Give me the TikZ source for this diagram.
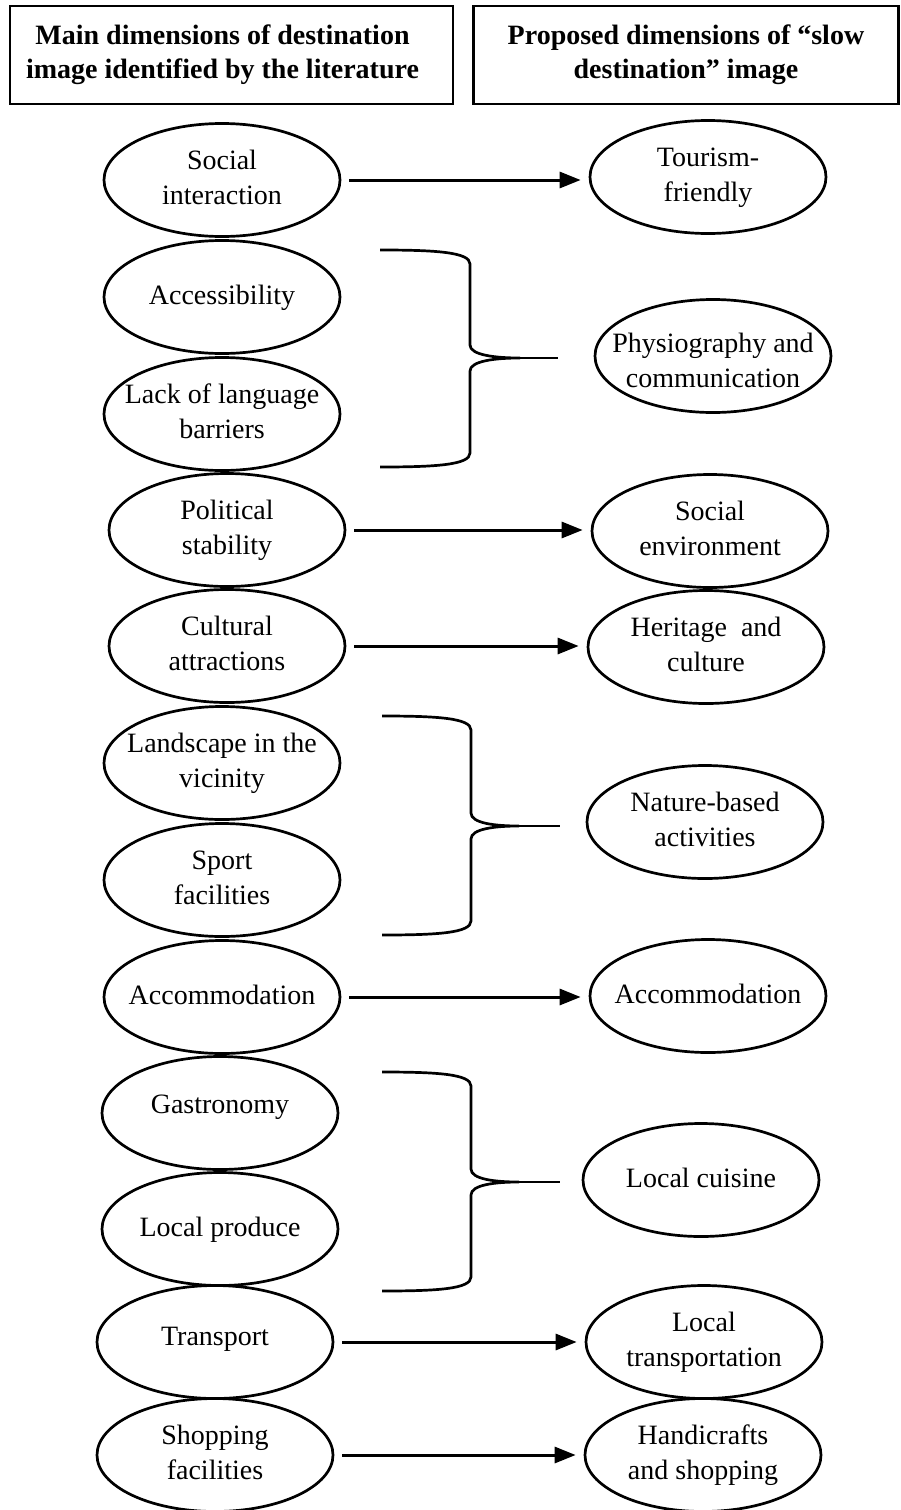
\documentclass[tikz,border=0pt]{standalone}
\usepackage{fontspec}
\setmainfont{Liberation Serif}
\usetikzlibrary{shapes.geometric,arrows.meta}
\newcommand\ovtext[1]{\makebox[0pt]{\begin{tabular}{@{}c@{}}#1\end{tabular}}}
\newcommand\ovtextlow[2]{\makebox[0pt]{\raisebox{#1}[0pt][0pt]{\begin{tabular}{@{}c@{}}#2\end{tabular}}}}
\newcommand\drawbrace[7]{%
  \draw[bracestyle] (#1,#5) .. controls ({#1+55},#5) and (#2,{#5+2}) .. (#2,{#5+14})
    -- (#2,{#6-13}) .. controls (#2,{#6-3}) and ({#3-25},#6) .. (#3,#6)
    .. controls ({#3-25},#6) and (#2,{#6+3}) .. (#2,{#6+13})
    -- (#2,{#7-14}) .. controls (#2,{#7-2}) and ({#1+55},#7) .. (#1,#7);
  \draw[bracestyle] (#3,#6) -- (#4,#6);}
\begin{document}
\begin{tikzpicture}[x=1pt,y=-1pt,
  oval/.style={ellipse,draw,line width=2.7pt,minimum width=236pt,minimum height=113pt,inner sep=0pt,font=\fontsize{28}{35}\selectfont},
  hbox/.style={draw,line width=2.7pt,minimum height=98pt,inner sep=0pt,align=center,font=\fontsize{28}{34}\selectfont\bfseries},
  conn/.style={line width=3pt,-{Triangle[length=21pt,width=16pt]},shorten <=8pt,shorten >=8pt},
  bracestyle/.style={line width=2.7pt}]
\useasboundingbox (0,0) rectangle (901,1510);
\fill[white] (0,0) rectangle (901,1510);
% headers
\node[hbox,minimum width=443pt] (h1) at (231.5,55) {Main dimensions of destination\hspace*{18pt}\\image identified by the literature\hspace*{18pt}};
\node[hbox,minimum width=425pt] (h2) at (686,55) {Proposed dimensions of “slow\\destination” image};
% left column
\node[oval] (l1) at (222,180) {\ovtext{Social\\interaction}};
\node[oval] (l2) at (222,297) {\ovtext{Accessibility}};
\node[oval] (l3) at (222,414) {\ovtext{Lack of language\\barriers}};
\node[oval] (l4) at (227,530) {\ovtext{Political\\stability}};
\node[oval] (l5) at (227,646) {\ovtext{Cultural\\attractions}};
\node[oval] (l6) at (222,763) {\ovtext{Landscape in the\\vicinity}};
\node[oval] (l7) at (222,880) {\ovtext{Sport\\facilities}};
\node[oval] (l8) at (222,997) {\ovtext{Accommodation}};
\node[oval] (l9) at (220,1113) {\ovtext{\raisebox{8pt}{Gastronomy}}};
\node[oval] (l10) at (220,1229) {\ovtext{Local produce}};
\node[oval] (l11) at (215,1342) {\ovtext{\raisebox{4pt}{Transport}}};
\node[oval] (l12) at (215,1455) {\ovtext{Shopping\\facilities}};
% right column
\node[oval] (r1) at (708,177) {\ovtext{Tourism-\\friendly}};
\node[oval] (r2) at (713,356) {\ovtextlow{-13pt}{Physiography and\\communication}};
\node[oval] (r3) at (710,531) {\ovtext{Social\\environment}};
\node[oval] (r4) at (706,647) {\ovtext{Heritage~~and\\culture}};
\node[oval] (r5) at (705,822) {\ovtext{Nature-based\\activities}};
\node[oval] (r6) at (708,996) {\ovtext{Accommodation}};
\node[oval] (r7) at (701,1180) {\ovtext{Local cuisine}};
\node[oval] (r8) at (704,1342) {\ovtext{Local\\transportation}};
\node[oval] (r9) at (703,1455) {\ovtext{Handicrafts\\and shopping}};
% arrows
\draw[conn] (l1.east) -- (l1.east -| r1.west);
\draw[conn] (l4.east) -- (l4.east -| r3.west);
\draw[conn] (l5.east) -- (l5.east -| r4.west);
\draw[conn] (l8.east) -- (l8.east -| r6.west);
\draw[conn] (l11.east) -- (l11.east -| r8.west);
\draw[conn] (l12.east) -- (l12.east -| r9.west);
% braces
\drawbrace{380}{470}{520}{558}{250}{358}{467}
\drawbrace{382}{471}{519}{560}{716}{826}{935}
\drawbrace{382}{471}{519}{560}{1072}{1182}{1291}
\end{tikzpicture}
\end{document}
